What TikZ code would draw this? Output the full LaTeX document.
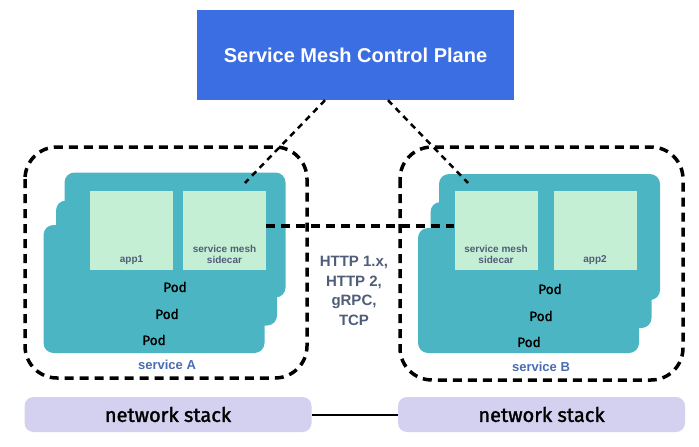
\documentclass[tikz,border=0pt]{standalone}
\usepackage{fontspec}
\setmainfont{Liberation Sans}
\newfontfamily\podfont{Fira Sans}[FakeBold=1.6]
\begin{document}
\begin{tikzpicture}[x=1pt,y=-1pt,
  podbox/.style={fill=podc,rounded corners=10pt,minimum width=221pt,minimum height=125pt,inner sep=0pt},
  podlbl/.style={font=\podfont\fontsize{13.5}{14}\selectfont,text=black},
  appbox/.style={fill=appc,minimum width=83pt,minimum height=79pt,inner sep=0pt},
  applbl/.style={font=\bfseries\fontsize{10}{11}\selectfont,text=slate,align=center},
  svcbound/.style={draw=black,line width=3.5pt,dash pattern=on 9pt off 6pt,rounded corners=32pt},
  svclbl/.style={font=\bfseries\fontsize{13}{14}\selectfont,text=svcblue},
  ctrlline/.style={draw=black,line width=2.5pt,dash pattern=on 6pt off 5pt},
  netbox/.style={fill=netc,rounded corners=9pt,minimum width=287pt,minimum height=35pt,inner sep=0pt,font=\podfont\fontsize{20}{22}\selectfont}
]
\definecolor{podc}{HTML}{4BB5C4}
\definecolor{appc}{HTML}{C5EFD5}
\definecolor{ctrlc}{HTML}{3B6EE3}
\definecolor{netc}{HTML}{D3D1EF}
\definecolor{slate}{HTML}{4F5D78}
\definecolor{svcblue}{HTML}{4A6CB0}
\useasboundingbox (0,0) rectangle (699,447);

% control plane
\node[fill=ctrlc,minimum width=317pt,minimum height=90pt,inner sep=0pt,text=white,font=\bfseries\fontsize{20}{22}\selectfont] (cp) at (355.5,55) {Service Mesh Control Plane};

% service A pods
\node[podbox] (pa1) at (175,235) {};
\node[podbox] (pa2) at (166.5,263) {};
\node[podbox,minimum height=128pt] (pa3) at (154,289) {};
\node[appbox] (app1) at (131.5,230.5) {};
\node[appbox] (sca) at (224.5,230.5) {};
\node[applbl] at (131.5,260) {app1};
\node[applbl] at (224.5,254) {service mesh\\sidecar};
\node[podlbl] at (175,287) {Pod};
\node[podlbl] at (167,314) {Pod};
\node[podlbl] at (154,340) {Pod};

% service B pods
\node[podbox,minimum height=126pt] (pb1) at (549.5,237) {};
\node[podbox,minimum height=126pt] (pb2) at (541,265) {};
\node[podbox] (pb3) at (528.5,290.5) {};
\node[appbox] (scb) at (496,230.5) {};
\node[appbox] (app2) at (595,230.5) {};
\node[applbl] at (496,254) {service mesh\\sidecar};
\node[applbl] at (595,260) {app2};
\node[podlbl] at (550,289) {Pod};
\node[podlbl] at (541,316) {Pod};
\node[podlbl] at (529,342) {Pod};

% service boundaries
\draw[svcbound] (25,147) rectangle (307,378);
\draw[svcbound] (400,147) rectangle (683,380);
\node[svclbl] (sla) at (167,365) {service A};
\node[svclbl] (slb) at (541,367) {service B};

% sidecar link
\draw[draw=black,line width=3.5pt,dash pattern=on 9pt off 6pt] (sca.east |- 0,226) -- (scb.west |- 0,226);
\node[font=\bfseries\fontsize{15}{19.5}\selectfont,text=slate,align=center] (proto) at (354,291) {HTTP 1.x,\\HTTP 2,\\gRPC,\\TCP};

% control lines
\coordinate (ca) at (245,183);
\coordinate (cb) at (468,183);
\draw[ctrlline] (cp.south -| 325,0) -- (ca);
\draw[ctrlline] (cp.south -| 388,0) -- (cb);

% network stack
\node[netbox] (na) at (168,414.5) {network stack};
\node[netbox] (nb) at (541.5,414.5) {network stack};
\draw[line width=2pt] (na.east) -- (nb.west);
\end{tikzpicture}
\end{document}
